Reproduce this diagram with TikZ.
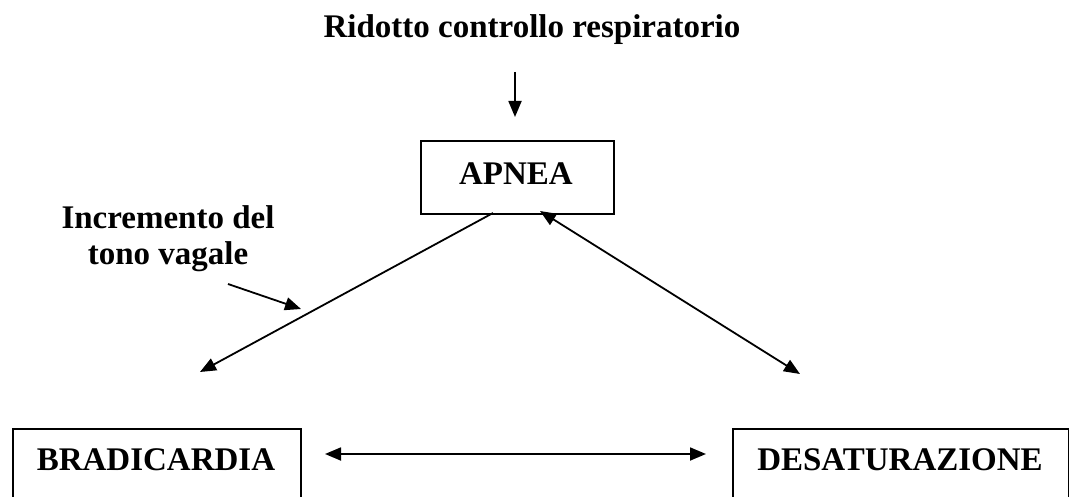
\documentclass[tikz,border=0pt]{standalone}
\usepackage{fontspec}
\setmainfont{Liberation Serif}
\usetikzlibrary{arrows.meta}
\tikzset{
  boxframe/.style={draw, line width=2pt, inner sep=0pt},
  lbl/.style={font=\bfseries\fontsize{33}{36}\selectfont, inner sep=0pt, anchor=base},
  conn/.style={line width=1.8pt},
  tip/.style={-{Triangle[length=16pt,width=13pt]}},
  tips/.style={{Triangle[length=16pt,width=13pt]}-{Triangle[length=16pt,width=13pt]}}
}
\begin{document}
\begin{tikzpicture}[x=1pt,y=-1pt]
\useasboundingbox (0,0) rectangle (1069,497);
% boxes
\node[boxframe, minimum width=193pt, minimum height=73pt, anchor=north west] (apnea) at (420,140) {};
\node[boxframe, minimum width=288pt, minimum height=100pt, anchor=north west] (brad) at (12,428) {};
\node[boxframe, minimum width=336pt, minimum height=100pt, anchor=north west] (desat) at (732,428) {};
% texts
\node[lbl] (tApnea) at (516,185) {APNEA};
\node[lbl] (tBrad) at (156,470) {BRADICARDIA};
\node[lbl] (tDesat) at (900,470) {DESATURAZIONE};
\node[lbl] (ridotto) at (532,38) {Ridotto controllo respiratorio};
\node[font=\bfseries\fontsize{33}{36}\selectfont, align=center, inner sep=0pt, anchor=base] (incr) at (168,265) {Incremento del\\tono vagale};
% connector end points
\coordinate (r1) at (515,72);
\coordinate (r2) at (515,117);
\coordinate (a1) at (493,213);
\coordinate (b1) at (200,372);
\coordinate (a2) at (540,211);
\coordinate (d1) at (800,374);
\coordinate (h1) at (325,454);
\coordinate (h2) at (706,454);
\coordinate (v1) at (228,284);
\coordinate (v2) at (301,309);
% connectors
\draw[conn, tip] (r1) -- (r2);
\draw[conn, tip] (a1) -- (b1);
\draw[conn, tips] (a2) -- (d1);
\draw[conn, tips] (h1) -- (h2);
\draw[conn, tip] (v1) -- (v2);
\end{tikzpicture}
\end{document}
